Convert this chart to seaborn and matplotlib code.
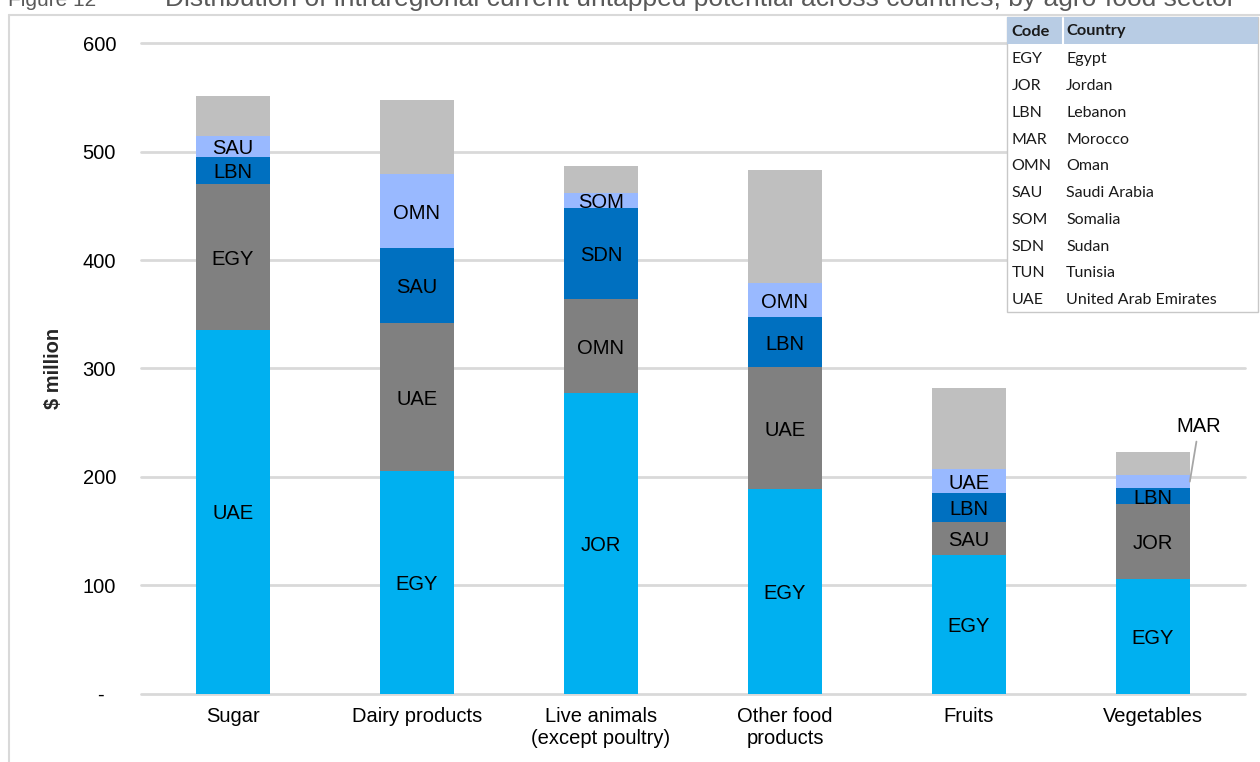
import numpy as np
import pandas as pd
import matplotlib
matplotlib.use("Agg")
import matplotlib.pyplot as plt
from matplotlib.patches import Rectangle
from matplotlib.lines import Line2D
import seaborn as sns

# ---------------- data ----------------
sectors = ["Sugar", "Dairy products", "Live animals\n(except poultry)",
           "Other food\nproducts", "Fruits", "Vegetables"]

seg1_vals = [335.0, 205.0, 277.0, 189.0, 128.0, 105.7]
seg1_codes = ["UAE", "EGY", "JOR", "EGY", "EGY", "EGY"]
seg2_vals = [135.0, 137.0, 87.0, 112.0, 30.0, 69.0]
seg2_codes = ["EGY", "UAE", "OMN", "UAE", "SAU", "JOR"]
seg3_vals = [25.0, 69.0, 84.0, 46.0, 27.0, 15.0]
seg3_codes = ["LBN", "SAU", "SDN", "LBN", "LBN", "LBN"]
seg4_vals = [19.0, 68.0, 14.0, 32.0, 22.0, 11.7]
seg4_codes = ["SAU", "OMN", "SOM", "OMN", "UAE", "MAR"]
other_vals = [37.5, 69.0, 25.0, 104.0, 75.0, 21.5]

y_ticks = [0, 100, 200, 300, 400, 500, 600]
y_ticklabels = ["-  ", "100", "200", "300", "400", "500", "600"]

legend_codes = ["EGY", "JOR", "LBN", "MAR", "OMN", "SAU", "SOM", "SDN", "TUN", "UAE"]
legend_names = ["Egypt", "Jordan", "Lebanon", "Morocco", "Oman", "Saudi Arabia",
                "Somalia", "Sudan", "Tunisia", "United Arab Emirates"]

title_num = "Figure 12"
title_text = "Distribution of intraregional current untapped potential across countries, by agro-food sector"

# ---------------- style ----------------
sns.set_theme(style="white")
plt.rcParams["font.family"] = ["Liberation Sans", "DejaVu Sans"]

W, H = 1260, 762
fig = plt.figure(figsize=(W / 100, H / 100), dpi=100)
fig.patch.set_facecolor("white")


def fx(px):
    return px / W


def fy(py):
    return 1 - py / H


ax_left, ax_right, ax_top, ax_bot = 141, 1245, 43.3, 693.5
ax = fig.add_axes([fx(ax_left), fy(ax_bot), (ax_right - ax_left) / W, (ax_bot - ax_top) / H])

layers = [seg1_vals, seg2_vals, seg3_vals, seg4_vals, other_vals]
colors = ["#00B0F0", "#808080", "#0070C0", "#99B9FF", "#BFBFBF"]
cum = np.cumsum(np.array(layers), axis=0)

# draw tallest cumulative first so lower layers overlay
for k in range(len(layers) - 1, -1, -1):
    df = pd.DataFrame({"sector": sectors, "value": cum[k]})
    sns.barplot(data=df, x="sector", y="value", order=sectors, color=colors[k],
                saturation=1, width=0.4, errorbar=None, linewidth=0, ax=ax, zorder=3)

# segment labels
codes = [seg1_codes, seg2_codes, seg3_codes, seg4_codes]
for k in range(4):
    for i in range(len(sectors)):
        if k == 3 and i == 5:
            continue
        bottom = cum[k][i] - layers[k][i]
        ax.text(i, bottom + layers[k][i] / 2, codes[k][i], ha="center",
                va="center_baseline", fontsize=14.5, color="black", zorder=5)

# MAR annotation
mar_mid = cum[3][5] - seg4_vals[5] / 2
ax.annotate(seg4_codes[5], xy=(5.2, mar_mid), xytext=(5.25, 238),
            ha="center", va="bottom", fontsize=14.5, color="black",
            arrowprops=dict(arrowstyle="-", color="#A6A6A6", lw=1.3,
                            shrinkA=2, shrinkB=0), zorder=6)

ax.set_xlim(-0.5, 5.5)
ax.set_ylim(0, 600)
ax.set_yticks(y_ticks)
ax.set_yticklabels(y_ticklabels)
ax.set_xlabel("")
ax.set_ylabel("$ million", fontsize=14.5, fontweight="bold")
ax.yaxis.set_label_coords((63 - ax_left) / (ax_right - ax_left), 0.5)
ax.tick_params(axis="y", length=0, pad=18, labelsize=14.5, labelcolor="black")
ax.tick_params(axis="x", length=0, pad=10, labelsize=14.5, labelcolor="black")
for s in ax.spines.values():
    s.set_visible(False)
ax.set_facecolor("white")
ax.yaxis.grid(True, color="#D9D9D9", linewidth=2)
ax.xaxis.grid(False)
ax.set_axisbelow(True)
for gl in ax.get_ygridlines():
    gl.set_clip_on(False)

# outer chart frame
fig.add_artist(Line2D([fx(9), fx(9)], [fy(15), fy(H + 5)], color="#D9D9D9", lw=1.5,
                      transform=fig.transFigure))
fig.add_artist(Line2D([fx(9), fx(W + 5)], [fy(15), fy(15)], color="#D9D9D9", lw=1.5,
                      transform=fig.transFigure))

# caption at the very top (cropped by the page edge, as in the source)
fig.text(fx(8), fy(6), title_num, ha="left", va="baseline", fontsize=15, color="#595959")
fig.text(fx(165), fy(6), title_text, ha="left", va="baseline", fontsize=19, color="#595959")

# code table
tl, tr, tt, tb = 1007, 1258, 17.5, 312
fig.add_artist(Rectangle((fx(tl), fy(tb)), (tr - tl) / W, (tb - tt) / H,
                         transform=fig.transFigure, facecolor="white",
                         edgecolor="#C8C8C8", lw=1, zorder=10))
fig.add_artist(Rectangle((fx(tl), fy(43.5)), (tr - tl) / W, (43.5 - tt) / H,
                         transform=fig.transFigure, facecolor="#B8CCE4",
                         edgecolor="none", lw=0, zorder=11))
fig.add_artist(Line2D([fx(1062.7), fx(1062.7)], [fy(tt), fy(43.5)], color="white", lw=1.5,
                      transform=fig.transFigure, zorder=12))
tfont = ["Lato", "DejaVu Sans"]
fig.text(fx(1011.5), fy(31.5), "Code", ha="left", va="center", fontsize=11.8,
         fontweight="bold", color="#1A1A1A", family=tfont, zorder=13)
fig.text(fx(1066), fy(31.5), "Country", ha="left", va="center", fontsize=11.8,
         fontweight="bold", color="#1A1A1A", family=tfont, zorder=13)
for j, (c, n) in enumerate(zip(legend_codes, legend_names)):
    yy = 59.3 + j * 26.75
    fig.text(fx(1011.5), fy(yy), c, ha="left", va="center", fontsize=11.5,
             color="#1A1A1A", family=tfont, zorder=13)
    fig.text(fx(1066), fy(yy), n, ha="left", va="center", fontsize=11.5,
             color="#1A1A1A", family=tfont, zorder=13)

fig.savefig("out.png", dpi=100, facecolor="white")
